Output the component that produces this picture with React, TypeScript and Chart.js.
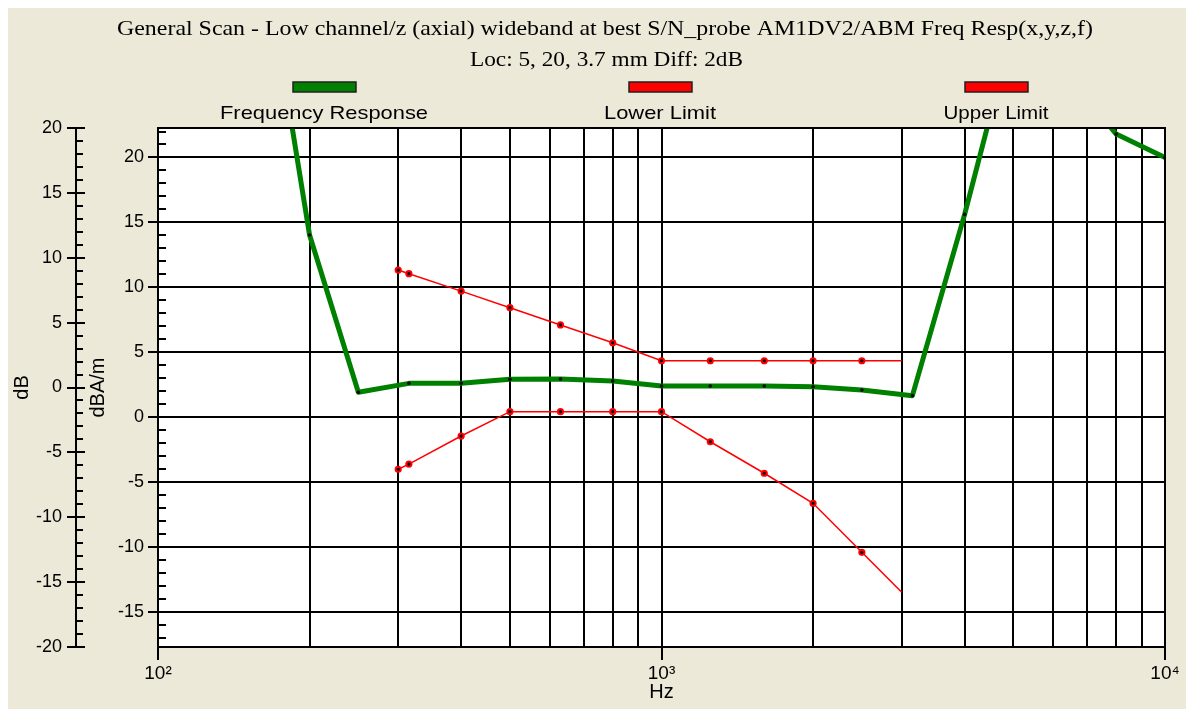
import React, { useEffect, useRef } from 'react';
import { Chart, registerables } from 'chart.js';

Chart.register(...registerables);

// ---------- data ----------
const respFreqs = [160, 200, 250, 315, 400, 500, 630, 800, 1000, 1250, 1600, 2000, 2500, 3150, 4000, 5000, 6300, 8000, 10000];
const respValues = [35, 11.75, -0.37, 0.32, 0.32, 0.63, 0.65, 0.5, 0.12, 0.12, 0.12, 0.06, -0.19, -0.63, 13.34, 27.8, 24.4, 19.53, 17.73];

const limitFreqs = [300, 315, 400, 500, 630, 800, 1000, 1250, 1600, 2000, 2500, 3000];
const lowerValues = [-6.3, -5.9, -3.74, -1.86, -1.86, -1.86, -1.86, -4.18, -6.61, -8.92, -12.7, -15.78];
const upperValues = [9.05, 8.77, 7.43, 6.15, 4.82, 3.45, 2.06, 2.06, 2.06, 2.06, 2.06, 2.06];

const xGridValues = [100, 200, 300, 400, 500, 600, 700, 800, 900, 1000, 2000, 3000, 4000, 5000, 6000, 7000, 8000, 9000, 10000];
const xTickLabels: Record<number, string> = { 100: '10²', 1000: '10³', 10000: '10⁴' };

const dbMin = -20;
const dbMax = 20;
const dbaOffset = 2.27; // dBA/m axis offset relative to dB axis
const dbTickValues = Array.from({ length: 41 }, (_, i) => -20 + i);
const dbaTickValues = Array.from({ length: 40 }, (_, i) => -17 + i);

const titleText = 'General Scan - Low channel/z (axial) wideband at best S/N_probe AM1DV2/ABM Freq Resp(x,y,z,f)';
const subtitleText = 'Loc: 5, 20, 3.7 mm Diff: 2dB';
const legendLabels = ['Frequency Response', 'Lower Limit', 'Upper Limit'];
const seriesColors = ['#008000', '#ff0000', '#ff0000'];

const SANS = '"Liberation Sans", Arial, sans-serif';
const SERIF = '"Liberation Serif", "Times New Roman", serif';

function drawFitted(ctx: CanvasRenderingContext2D, text: string, cx: number, baseline: number, font: string, width: number) {
  ctx.save();
  ctx.font = font;
  ctx.fillStyle = '#000';
  ctx.textAlign = 'center';
  ctx.textBaseline = 'alphabetic';
  const w = ctx.measureText(text).width;
  const sx = w > 0 ? width / w : 1;
  ctx.translate(cx, baseline);
  ctx.scale(sx, 1);
  ctx.fillText(text, 0, 0);
  ctx.restore();
}

const backgroundPlugin = {
  id: 'bg',
  beforeDraw(chart: any) {
    const { ctx, chartArea } = chart;
    ctx.save();
    ctx.fillStyle = '#ECE9D8';
    ctx.fillRect(0, 0, chart.width, chart.height);
    ctx.fillStyle = '#ffffff';
    ctx.fillRect(chartArea.left, chartArea.top, chartArea.right - chartArea.left, chartArea.bottom - chartArea.top);
    ctx.restore();
  },
};

const headerPlugin = {
  id: 'header',
  afterDraw(chart: any) {
    const ctx = chart.ctx as CanvasRenderingContext2D;
    drawFitted(ctx, titleText, 597, 27, `22px ${SERIF}`, 976);
    drawFitted(ctx, subtitleText, 598.5, 58, `22px ${SERIF}`, 273);
    const centers = [316, 652, 988];
    const widths = [208, 112, 105];
    legendLabels.forEach((lab, i) => {
      ctx.save();
      ctx.fillStyle = seriesColors[i];
      ctx.fillRect(centers[i] - 31, 74, 63, 10);
      ctx.strokeStyle = '#202020';
      ctx.lineWidth = 1.5;
      ctx.strokeRect(centers[i] - 31, 74, 63, 10);
      ctx.restore();
      drawFitted(ctx, lab, centers[i], 111, `19px ${SANS}`, widths[i]);
    });
  },
};

const axisMarksPlugin = {
  id: 'axisMarks',
  afterDraw(chart: any) {
    const ctx = chart.ctx as CanvasRenderingContext2D;
    const marks = (scale: any, majL: number, majR: number, minR: number) => {
      const x0 = scale.right;
      ctx.save();
      ctx.strokeStyle = '#000';
      ctx.lineWidth = 2;
      scale.ticks.forEach((t: any) => {
        const y = Math.round(scale.getPixelForValue(t.value));
        if (y < chart.chartArea.top - 1 || y > chart.chartArea.bottom + 1) return;
        const major = Math.round(t.value) % 5 === 0;
        ctx.beginPath();
        ctx.moveTo(x0 - (major ? majL : 0), y);
        ctx.lineTo(x0 + (major ? majR : minR), y);
        ctx.stroke();
      });
      ctx.restore();
    };
    marks(chart.scales.yDB, 9, 9, 7);
    marks(chart.scales.y, 10, 10, 8);
    const a = chart.chartArea;
    ctx.save();
    ctx.strokeStyle = '#000';
    ctx.lineWidth = 2;
    ctx.strokeRect(a.left, a.top, a.right - a.left, a.bottom - a.top);
    ctx.restore();
  },
};

export default function App() {
  const ref = useRef<HTMLCanvasElement | null>(null);

  useEffect(() => {
    if (!ref.current) return;
    Chart.defaults.font.family = SANS;
    const toPts = (xs: number[], ys: number[]) => xs.map((x, i) => ({ x, y: ys[i] }));
    const limitRadius = (c: any) => (c.dataIndex === limitFreqs.length - 1 ? 0 : 2.6);
    const chart = new Chart(ref.current, {
      type: 'line',
      data: {
        datasets: [
          {
            label: legendLabels[0],
            data: toPts(respFreqs, respValues),
            yAxisID: 'yDB',
            borderColor: seriesColors[0],
            borderWidth: 5,
            borderJoinStyle: 'round',
            pointRadius: 1.8,
            pointBackgroundColor: '#000',
            pointBorderWidth: 0,
            tension: 0,
          },
          {
            label: legendLabels[1],
            data: toPts(limitFreqs, lowerValues),
            yAxisID: 'yDB',
            borderColor: seriesColors[1],
            borderWidth: 1.5,
            pointRadius: limitRadius,
            pointBackgroundColor: '#000',
            pointBorderColor: '#ff0000',
            pointBorderWidth: 2,
            tension: 0,
          },
          {
            label: legendLabels[2],
            data: toPts(limitFreqs, upperValues),
            yAxisID: 'yDB',
            borderColor: seriesColors[2],
            borderWidth: 1.5,
            pointRadius: limitRadius,
            pointBackgroundColor: '#000',
            pointBorderColor: '#ff0000',
            pointBorderWidth: 2,
            tension: 0,
          },
        ],
      },
      options: {
        responsive: false,
        animation: false,
        layout: { padding: { left: 0, top: 120, right: 29, bottom: 0 } },
        plugins: {
          legend: { display: false },
          title: { display: false },
          tooltip: { enabled: false },
        },
        scales: {
          x: {
            type: 'logarithmic',
            position: 'bottom',
            min: 100,
            max: 10000,
            afterBuildTicks: (s: any) => {
              s.ticks = xGridValues.map((v) => ({ value: v }));
            },
            afterFit: (s: any) => {
              s.height = 62;
            },
            ticks: {
              autoSkip: false,
              maxRotation: 0,
              minRotation: 0,
              padding: 2,
              color: '#000',
              font: { size: 19 },
              callback: (v: any) => xTickLabels[Number(v)] ?? '',
            },
            grid: {
              color: '#000',
              lineWidth: 2,
              drawTicks: true,
              tickLength: 13,
              tickWidth: 2,
              tickColor: (c: any) => (c.tick && xTickLabels[c.tick.value] ? '#000' : 'rgba(0,0,0,0)'),
            },
            border: { display: true, color: '#000', width: 2 },
            title: { display: true, text: 'Hz', color: '#000', font: { size: 20 }, padding: { top: 0, bottom: 5 } },
          },
          yDB: {
            type: 'linear',
            position: 'left',
            weight: 10,
            min: dbMin,
            max: dbMax,
            afterBuildTicks: (s: any) => {
              s.ticks = dbTickValues.map((v) => ({ value: v }));
            },
            afterFit: (s: any) => {
              s.width = 68;
            },
            ticks: {
              autoSkip: false,
              padding: 14,
              color: '#000',
              font: { size: 18 },
              callback: (v: any) => (Math.round(Number(v)) % 5 === 0 ? String(v) : ''),
            },
            grid: { drawOnChartArea: false, drawTicks: false },
            border: { display: true, color: '#000', width: 2 },
            title: { display: true, text: 'dB', color: '#000', font: { size: 20 }, padding: { top: 2, bottom: 0 } },
          },
          y: {
            type: 'linear',
            position: 'left',
            weight: 0,
            min: dbMin + dbaOffset,
            max: dbMax + dbaOffset,
            afterBuildTicks: (s: any) => {
              s.ticks = dbaTickValues.map((v) => ({ value: v }));
            },
            afterFit: (s: any) => {
              s.width = 82;
            },
            ticks: {
              autoSkip: false,
              padding: 14,
              color: '#000',
              font: { size: 18 },
              callback: (v: any) => (Math.round(Number(v)) % 5 === 0 ? String(v) : ''),
            },
            grid: {
              drawTicks: false,
              lineWidth: 2,
              color: (c: any) => (c.tick && Math.round(c.tick.value) % 5 === 0 ? '#000' : 'rgba(0,0,0,0)'),
            },
            border: { display: true, color: '#000', width: 2 },
            title: { display: true, text: 'dBA/m', color: '#000', font: { size: 20 }, padding: { top: 10, bottom: 0 } },
          },
        },
      } as any,
      plugins: [backgroundPlugin, headerPlugin, axisMarksPlugin],
    });
    return () => chart.destroy();
  }, []);

  return <canvas ref={ref} width={1186} height={701} style={{ display: 'block' }} />;
}
